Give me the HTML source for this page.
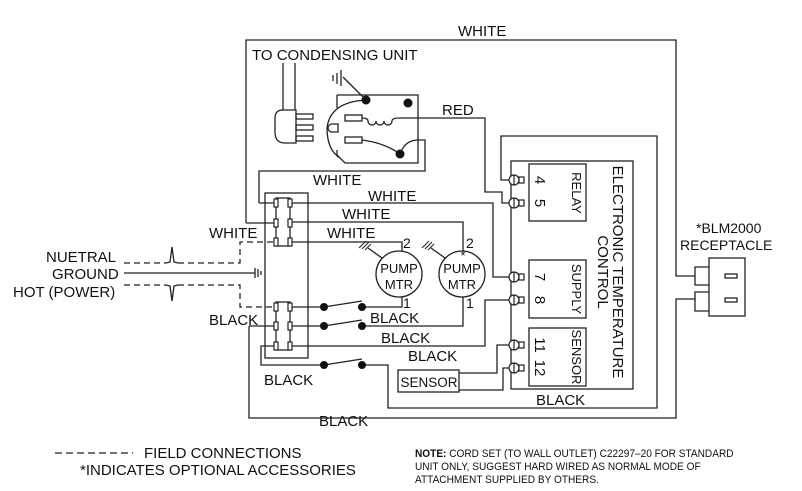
<!DOCTYPE html>
<html><head><meta charset="utf-8"><style>
html,body{margin:0;padding:0;background:#fff;}
svg{display:block;font-family:"Liberation Sans",sans-serif;}
text{fill:#111;}
</style></head><body>
<svg width="802" height="491" viewBox="0 0 802 491" xmlns="http://www.w3.org/2000/svg">
<g fill="none" stroke="#222" stroke-width="1.3">
<polyline points="246,223 246,40 676,40 676,276 695,276"/>
<polyline points="249,326 249,418 676,418 676,299 695,299"/>
<rect x="265" y="193" width="43" height="165"/>
<rect x="276" y="198" width="14" height="48"/>
<rect x="276" y="302" width="14" height="48"/>
<polyline points="259,203 259,171 425,171 425,140 418,140"/>
<line x1="259" y1="203" x2="276" y2="203"/>
<polyline points="290,203 493,203 493,277 509,277"/>
<line x1="246" y1="223" x2="276" y2="223"/>
<polyline points="290,222 463,222 463,251"/>
<polyline points="290,242 402,242 402,251"/>
<line x1="290" y1="307" x2="324" y2="307"/>
<polyline points="362,307 402,307 402,297"/>
<line x1="249" y1="326" x2="276" y2="326"/>
<line x1="290" y1="326" x2="324" y2="326"/>
<polyline points="362,326 463,326 463,297"/>
<polyline points="290,346 485,346 485,300 509,300"/>
<polyline points="276,346 261,346 261,365 324,365"/>
<polyline points="362,365 388,365 388,408 657,408 657,136 501,136 501,180 509,180"/>
<line x1="324" y1="307" x2="362" y2="301"/>
<line x1="324" y1="326" x2="362" y2="320"/>
<line x1="324" y1="365" x2="362" y2="359"/>
<polyline points="400,118 485,118 485,192 502,192 502,203 509,203"/>
<rect x="398" y="370" width="61" height="22"/>
<polyline points="459,373 497,373 497,345 509,345"/>
<polyline points="459,390 503,390 503,368 509,368"/>
<circle cx="399" cy="274" r="23"/>
<circle cx="462" cy="274" r="23"/>
<line x1="382" y1="258" x2="368" y2="248"/>
<line x1="445" y1="258" x2="431" y2="248"/>
<rect x="511" y="161" width="122" height="228"/>
<rect x="529" y="164" width="57" height="57"/>
<rect x="529" y="260" width="57" height="58"/>
<rect x="529" y="328" width="57" height="58"/>
<rect x="709" y="258" width="36" height="58"/>
<polyline points="709,267 695,267 695,285 709,285"/>
<polyline points="709,292 695,292 695,311 709,311"/>
<rect x="725" y="274" width="12" height="4"/>
<rect x="725" y="298" width="12" height="4"/>
<path d="M337,95 L418,95 L418,163 L345,163 L337,155 L337,150 M337,108 L337,95"/>
<path d="M366,100 Q330,102 327,128 Q327,150 340,158"/>
<path d="M338,124 L332,124 A4,4 0 0 0 332,132 L338,132 Z"/>
<rect x="345" y="115" width="17" height="6"/>
<rect x="345" y="137" width="17" height="6"/>
<path d="M362,118 q6,0 6,3 a4,4 0 0 0 8,0 a4,4 0 0 0 8,0 a4,4 0 0 0 8,0 q0,-3 8,-3"/>
<path d="M362,140 Q385,143 400,154"/>
<path d="M400,154 Q405,140 418,140"/>
<line x1="343" y1="77" x2="366" y2="100"/>
<line x1="341" y1="70" x2="341" y2="86"/><line x1="337" y1="73" x2="337" y2="84"/><line x1="333" y1="75" x2="333" y2="81"/>
<line x1="283" y1="63" x2="283" y2="110"/><line x1="295" y1="63" x2="295" y2="110"/>
<path d="M283,110 L296,110 L296,143 L285,143 Q275,143 275,132 L275,118 Q275,110 283,110 Z"/>
<rect x="296" y="114" width="17" height="5"/><rect x="296" y="125" width="17" height="5"/><rect x="296" y="136" width="17" height="5"/>
<line x1="124" y1="273" x2="255" y2="273"/>
<line x1="255" y1="268" x2="255" y2="278"/><line x1="258" y1="269" x2="258" y2="277"/><line x1="261" y1="271" x2="261" y2="275"/>
<g stroke-width="1"><line x1="359" y1="248" x2="366" y2="241"/><line x1="362" y1="249" x2="369" y2="242"/><line x1="365" y1="250" x2="371" y2="244"/>
<line x1="422" y1="248" x2="429" y2="241"/><line x1="425" y1="249" x2="432" y2="242"/><line x1="428" y1="250" x2="434" y2="244"/></g>
<g stroke-dasharray="6,4">
<polyline points="124,263 166,263"/><polyline points="178,263 240,263 240,242 276,242"/>
<polyline points="124,285 166,285"/><polyline points="178,285 240,285 240,307 276,307"/>
</g>
<polyline points="166,263 170,262 172,247 174,262 178,263"/>
<polyline points="166,285 170,286 172,301 174,286 178,285"/>
<line x1="55" y1="453" x2="133" y2="453" stroke-dasharray="7,4"/>
</g>
<g fill="#111">
<circle cx="366" cy="100" r="4.5"/><circle cx="408" cy="103" r="4.5"/><circle cx="400" cy="154" r="4.5"/>
<circle cx="324" cy="307" r="4"/><circle cx="362" cy="307" r="4"/>
<circle cx="324" cy="326" r="4"/><circle cx="362" cy="326" r="4"/>
<circle cx="324" cy="365" r="4"/><circle cx="362" cy="365" r="4"/>
</g>
<g fill="#fff" stroke="#222" stroke-width="1.2">
<g transform="translate(0,180)"><circle cx="514" cy="0" r="5"/><line x1="514" y1="-5" x2="514" y2="5"/><rect x="519" y="-3" width="5" height="6"/></g>
<g transform="translate(0,203)"><circle cx="514" cy="0" r="5"/><line x1="514" y1="-5" x2="514" y2="5"/><rect x="519" y="-3" width="5" height="6"/></g>
<g transform="translate(0,277)"><circle cx="514" cy="0" r="5"/><line x1="514" y1="-5" x2="514" y2="5"/><rect x="519" y="-3" width="5" height="6"/></g>
<g transform="translate(0,300)"><circle cx="514" cy="0" r="5"/><line x1="514" y1="-5" x2="514" y2="5"/><rect x="519" y="-3" width="5" height="6"/></g>
<g transform="translate(0,345)"><circle cx="514" cy="0" r="5"/><line x1="514" y1="-5" x2="514" y2="5"/><rect x="519" y="-3" width="5" height="6"/></g>
<g transform="translate(0,368)"><circle cx="514" cy="0" r="5"/><line x1="514" y1="-5" x2="514" y2="5"/><rect x="519" y="-3" width="5" height="6"/></g>
<rect x="274" y="199" width="4" height="8"/><rect x="288" y="199" width="4" height="8"/>
<rect x="274" y="219" width="4" height="8"/><rect x="288" y="219" width="4" height="8"/>
<rect x="274" y="238" width="4" height="8"/><rect x="288" y="238" width="4" height="8"/>
<rect x="274" y="303" width="4" height="8"/><rect x="288" y="303" width="4" height="8"/>
<rect x="274" y="322" width="4" height="8"/><rect x="288" y="322" width="4" height="8"/>
<rect x="274" y="342" width="4" height="8"/><rect x="288" y="342" width="4" height="8"/>
</g>
<g font-size="15">
<text x="458" y="36">WHITE</text>
<text x="252" y="60">TO CONDENSING UNIT</text>
<text x="442" y="115">RED</text>
<text x="313" y="185">WHITE</text>
<text x="368" y="201">WHITE</text>
<text x="342" y="219">WHITE</text>
<text x="209" y="238">WHITE</text>
<text x="327" y="238">WHITE</text>
<text x="46" y="262">NUETRAL</text>
<text x="52" y="279">GROUND</text>
<text x="13" y="297">HOT (POWER)</text>
<text x="209" y="325">BLACK</text>
<text x="370" y="323">BLACK</text>
<text x="381" y="343">BLACK</text>
<text x="408" y="361">BLACK</text>
<text x="264" y="385">BLACK</text>
<text x="319" y="426">BLACK</text>
<text x="536" y="405">BLACK</text>
<text x="696" y="233" font-size="14">*BLM2000</text>
<text x="680" y="250" font-size="14">RECEPTACLE</text>
</g>
<g font-size="13" text-anchor="middle">
<text x="399" y="273">PUMP</text><text x="399" y="289">MTR</text>
<text x="462" y="273">PUMP</text><text x="462" y="289">MTR</text>
<text x="463" y="260">*</text>
</g>
<g font-size="14">
<text x="403" y="248">2</text><text x="403" y="308">1</text>
<text x="466" y="248">2</text><text x="466" y="308">1</text>
</g>
<text x="429" y="387" font-size="13.5" text-anchor="middle">SENSOR</text>
<g font-size="15">
<text transform="translate(613,272) rotate(90)" text-anchor="middle">ELECTRONIC TEMPERATURE</text>
<text transform="translate(598,272) rotate(90)" text-anchor="middle">CONTROL</text>
<text transform="translate(572,193) rotate(90)" text-anchor="middle" font-size="13">RELAY</text>
<text transform="translate(572,289) rotate(90)" text-anchor="middle" font-size="13">SUPPLY</text>
<text transform="translate(572,357) rotate(90)" text-anchor="middle" font-size="13">SENSOR</text>
<text transform="translate(535,180) rotate(90)" text-anchor="middle">4</text>
<text transform="translate(535,203) rotate(90)" text-anchor="middle">5</text>
<text transform="translate(535,277) rotate(90)" text-anchor="middle">7</text>
<text transform="translate(535,300) rotate(90)" text-anchor="middle">8</text>
<text transform="translate(535,345) rotate(90)" text-anchor="middle">11</text>
<text transform="translate(535,368) rotate(90)" text-anchor="middle">12</text>
</g>
<text x="144" y="458" font-size="15">FIELD CONNECTIONS</text>
<text x="80" y="475" font-size="15">*INDICATES OPTIONAL ACCESSORIES</text>
<g font-size="11" transform="translate(415,0) scale(0.92,1)">
<text x="0" y="457"><tspan font-weight="bold">NOTE:</tspan> CORD SET (TO WALL OUTLET) C22297–20 FOR STANDARD</text>
<text x="0" y="470">UNIT ONLY, SUGGEST HARD WIRED AS NORMAL MODE OF</text>
<text x="0" y="483">ATTACHMENT SUPPLIED BY OTHERS.</text>
</g>
</svg>
</body></html>
